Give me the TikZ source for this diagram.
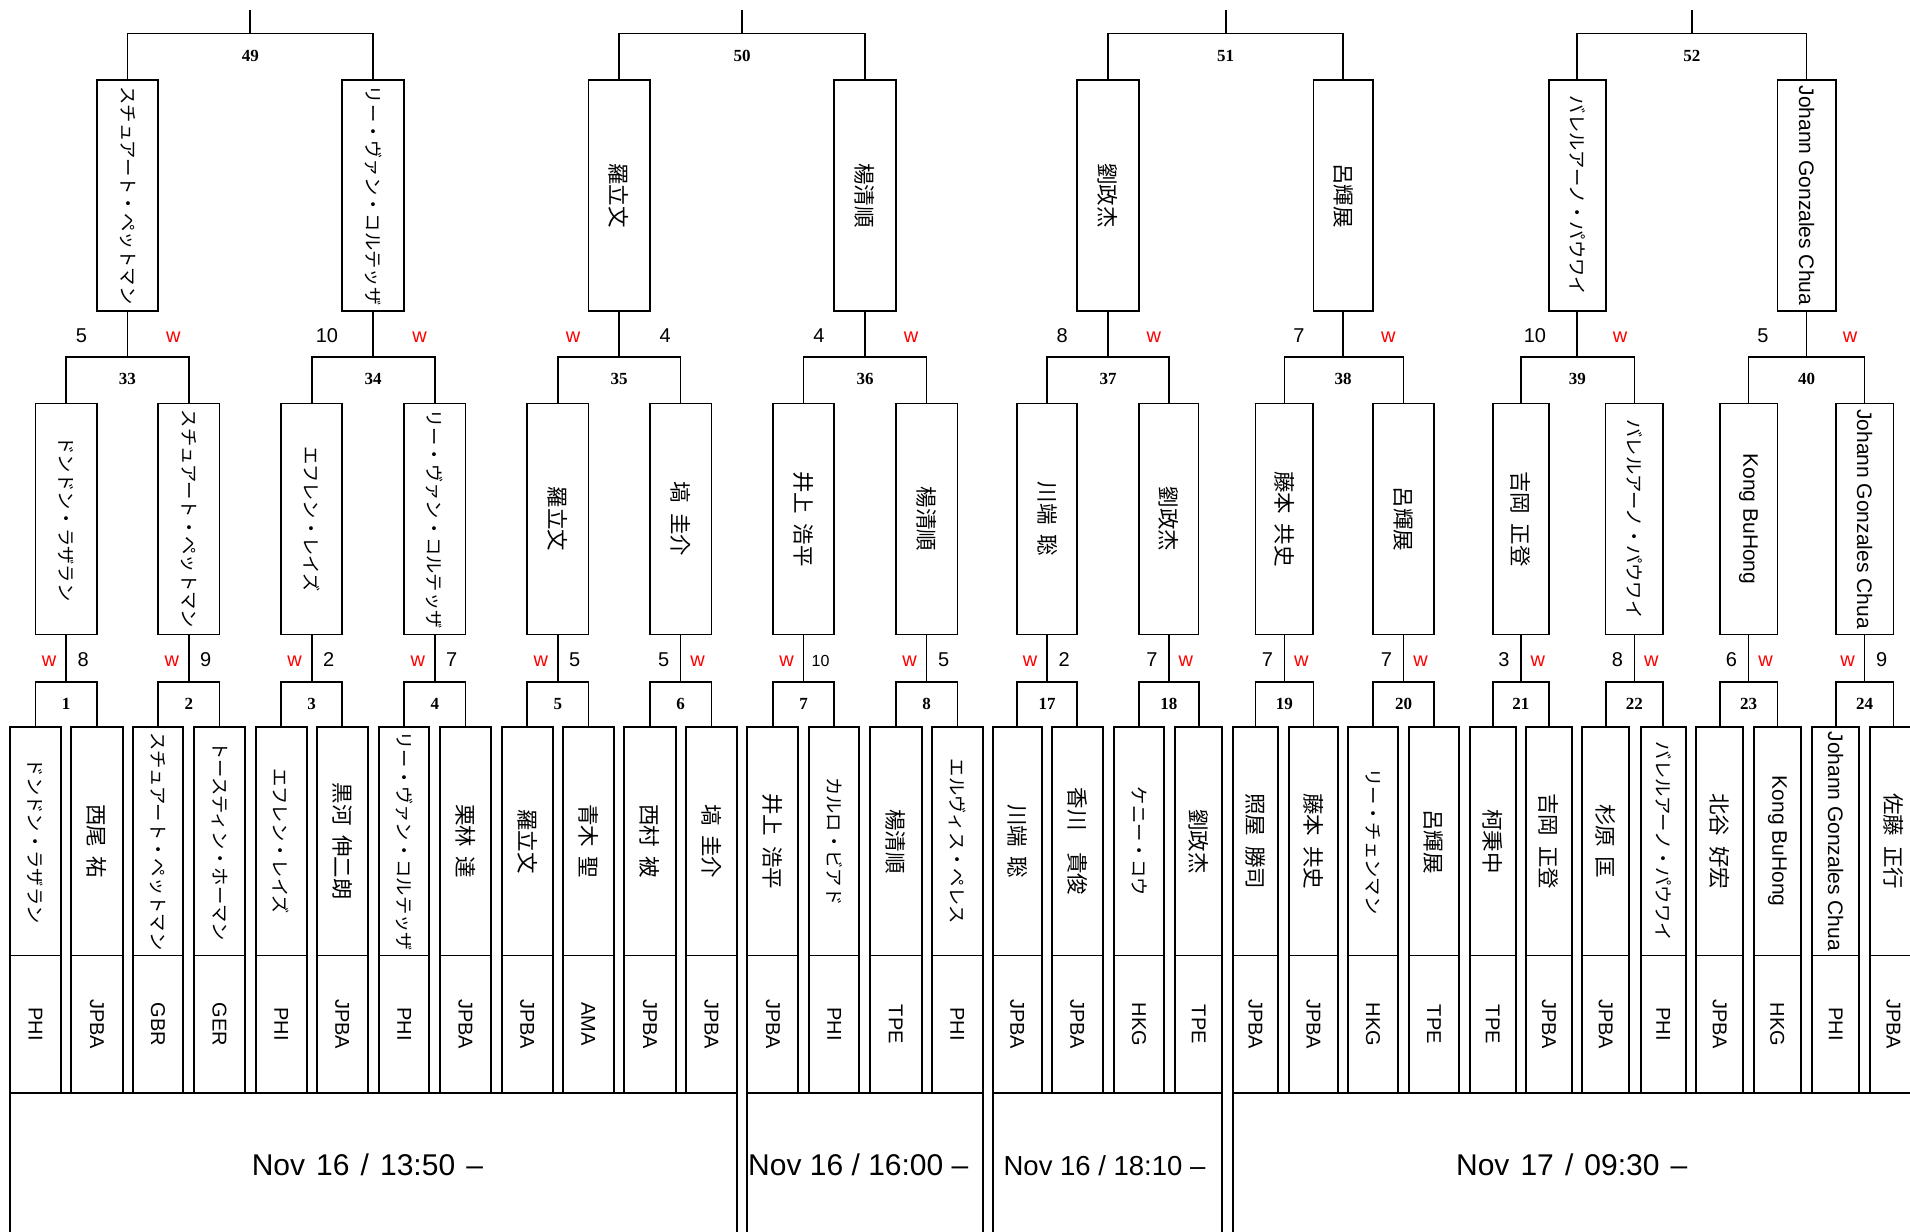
\documentclass[tikz,border=0pt]{standalone}
\usepackage{fontspec}
\usepackage{graphicx}
\newfontfamily\jpfont{Noto Sans CJK JP}
\newfontfamily\jpkfont{Noto Sans CJK JP}[WordSpace=2]
\newfontfamily\latfont{Liberation Sans}
\newfontfamily\serfont{Liberation Serif}
\definecolor{wred}{RGB}{255,0,0}
\newcommand\kanaf{\jpfont\fontsize{18.3}{20}\selectfont}
\newcommand\kanjif{\jpkfont\fontsize{21.5}{24}\selectfont}
\newcommand\latf{\latfont\fontsize{21}{24}\selectfont}
\newcommand\wm{\textcolor{wred}{w}}
\newcommand\tensm{{\fontsize{16}{18}\selectfont 10}}
\newcommand\datef{\latfont\fontsize{30}{32}\selectfont}
\newcommand\datesf{\latfont\fontsize{27.5}{30}\selectfont}
\tikzset{
  box/.style={draw, line width=1.7pt, inner sep=0pt, outer sep=0pt},
  link/.style={line width=1.7pt},
  ctry/.style={font=\latfont\fontsize{20}{22}\selectfont},
  score/.style={font=\latfont\fontsize{20}{22}\selectfont, anchor=base, inner sep=0pt},
  mnum/.style={font=\serfont\bfseries\fontsize{17}{19}\selectfont, anchor=base, inner sep=0pt},
  datetxt/.style={font=\datef, anchor=base, inner sep=0pt},
  datesmall/.style={font=\datesf, anchor=base, inner sep=0pt},
}
\begin{document}
\begin{tikzpicture}[x=1pt,y=-1pt]
\useasboundingbox (0,0) rectangle (1910,1231);

% players
\foreach \lo/\hi/\nm/\ct/\fs [count=\i from 0] in {
10/61/ドンドン・ラザラン/PHI/\kanaf,
71/122.7/西尾 祐/JPBA/\kanjif,
132.7/183.3/スチュアート・ペットマン/GBR/\kanaf,
194/245/トースティン・ホーマン/GER/\kanaf,
255.7/306.7/エフレン・レイズ/PHI/\kanaf,
316.7/367.7/黒河 伸二朗/JPBA/\kanjif,
379/429.3/リー・ヴァン・コルテッザ/PHI/\kanaf,
440/491/栗林 達/JPBA/\kanjif,
501.7/552.7/羅立文/JPBA/\kanjif,
562.7/614/青木 聖/AMA/\kanjif,
624/675.7/西村 被/JPBA/\kanjif,
686/736.7/塙 圭介/JPBA/\kanjif,
747.3/798.3/井上 浩平/JPBA/\kanjif,
809/859.3/カルロ・ビアド/PHI/\kanaf,
870/921.7/楊清順/TPE/\kanjif,
932/982.7/エルヴィス・ペレス/PHI/\kanaf,
992.7/1041.7/川端 聡/JPBA/\kanjif,
1051.7/1102.7/香川　貴俊/JPBA/\kanjif,
1114/1164/ケニー・コウ/HKG/\kanaf,
1175/1222.3/劉政杰/TPE/\kanjif,
1232.7/1278.3/照屋 勝司/JPBA/\kanjif,
1289/1337.7/藤本 共史/JPBA/\kanjif,
1347.7/1398.3/リー・チェンマン/HKG/\kanaf,
1409/1459/呂輝展/TPE/\kanjif,
1470/1515.7/柯秉中/TPE/\kanjif,
1526/1571.7/吉岡 正登/JPBA/\kanjif,
1582/1629.3/杉原 匡/JPBA/\kanjif,
1640.7/1685.7/バレルアーノ・パウワイ/PHI/\kanaf,
1696/1743.3/北谷 好宏/JPBA/\kanjif,
1754/1800.7/Kong BuHong/HKG/\latf,
1812/1859.3/Johann Gonzales Chua/PHI/\latf,
1870/1917/佐藤 正行/JPBA/\kanjif}{
  \pgfmathsetmacro\W{\hi-\lo}
  \pgfmathsetmacro\X{(\lo+\hi)/2}
  \node[box, anchor=north, minimum width=\W pt, minimum height=228.5pt, font=\fs] (pn\i) at (\X,727) {\rotatebox{-90}{\nm}};
  \node[box, anchor=north, minimum width=\W pt, minimum height=137.5pt, ctry] (pc\i) at (pn\i.south) {\rotatebox{-90}{\ct}};
}

% first round matches and their winners
\foreach \pa/\pb/\n/\mx/\bw/\nm/\fs/\lab/\rab in {
0/1/1/66.2/61.35/ドンドン・ラザラン/\kanaf/\wm/8,
2/3/2/188.75/61.5/スチュアート・ペットマン/\kanaf/\wm/9,
4/5/3/311.7/61/エフレン・レイズ/\kanaf/\wm/2,
6/7/4/434.8/61.35/リー・ヴァン・コルテッザ/\kanaf/\wm/7,
8/9/5/557.8/61.15/羅立文/\kanjif/\wm/5,
10/11/6/680.6/61.5/塙 圭介/\kanjif/5/\wm,
12/13/7/803.5/61.35/井上 浩平/\kanjif/\wm/\tensm,
14/15/8/926.6/61.5/楊清順/\kanjif/\wm/5,
16/17/17/1047.2/60/川端 聡/\kanjif/\wm/2,
18/19/18/1168.8/59.65/劉政杰/\kanjif/7/\wm,
20/21/19/1284.4/57.85/藤本 共史/\kanjif/7/\wm,
22/23/20/1403.5/61/呂輝展/\kanjif/7/\wm,
24/25/21/1520.85/56/吉岡 正登/\kanjif/3/\wm,
26/27/22/1634.4/57.55/バレルアーノ・パウワイ/\kanaf/8/\wm,
28/29/23/1748.5/57.7/Kong BuHong/\latf/6/\wm,
30/31/24/1864.6/57.85/Johann Gonzales Chua/\latf/\wm/9}{
  \coordinate (a\n) at (\mx,682);
  \draw[link] (pn\pa.north) |- (a\n) -| (pn\pb.north);
  \node[mnum] (an\n) at (\mx,709) {\n};
  \node[box, minimum width=\bw pt, minimum height=231pt, font=\fs] (w\n) at (\mx,519) {\rotatebox{-90}{\nm}};
  \draw[link] (a\n) -- (w\n.south);
  \node[score] (sla\n) at ({\mx-17},666) {\lab};
  \node[score] (sra\n) at ({\mx+17},666) {\rab};
}

% second round
\foreach \ba/\bb/\n/\sx/\tw/\nm/\fs/\lab/\rab/\lx/\rx in {
1/2/33/127.4/61.15/スチュアート・ペットマン/\kanaf/5/\wm/81.5/173.4,
3/4/34/373.2/61.95/リー・ヴァン・コルテッザ/\kanaf/10/\wm/326.95/419.5,
5/6/35/619.1/61.5/羅立文/\kanjif/\wm/4/573.1/665.2,
7/8/36/865/61.7/楊清順/\kanjif/4/\wm/818.8/911.2,
17/18/37/1108.1/61.8/劉政杰/\kanjif/8/\wm/1062.2/1153.9,
19/20/38/1343.2/59.65/呂輝展/\kanjif/7/\wm/1298.9/1388.25,
21/22/39/1577.25/56.8/バレルアーノ・パウワイ/\kanaf/10/\wm/1534.85/1620,
23/24/40/1806.5/58.3/Johann Gonzales Chua/\latf/5/\wm/1762.9/1850.1}{
  \coordinate (b\n) at (\sx,357);
  \draw[link] (w\ba.north) |- (b\n) -| (w\bb.north);
  \node[mnum] (bn\n) at (\sx,384.5) {\n};
  \node[box, minimum width=\tw pt, minimum height=230.7pt, font=\fs] (t\n) at (\sx,195.5) {\rotatebox{-90}{\nm}};
  \draw[link] (b\n) -- (t\n.south);
  \node[score] (slb\n) at (\lx,342.5) {\lab};
  \node[score] (srb\n) at (\rx,342.5) {\rab};
}

% third round
\foreach \pa/\pb/\n/\mx in {33/34/49/250.3, 35/36/50/742.05, 37/38/51/1225.65, 39/40/52/1691.9}{
  \coordinate (c\n) at (\mx,33.5);
  \coordinate (top\n) at (\mx,10);
  \draw[link] (t\pa.north) |- (c\n) -| (t\pb.north);
  \draw[link] (c\n) -- (top\n);
  \node[mnum] (cn\n) at (\mx,61.75) {\n};
}

% session boxes
\node[box, anchor=north west, minimum width=726.7pt, minimum height=200pt] (d1) at (10,1093) {};
\node[box, anchor=north west, minimum width=235.4pt, minimum height=200pt] (d2) at (747.3,1093) {};
\node[box, anchor=north west, minimum width=229.6pt, minimum height=200pt] (d3) at (992.7,1093) {};
\node[box, anchor=north west, minimum width=680pt, minimum height=200pt] (d4) at (1232.7,1093) {};
\node[datetxt] (dt1) at (367.4,1175) {\spaceskip=11.1pt\relax Nov 16 / 13:50 –};
\node[datetxt] (dt2) at (858.3,1175) {Nov 16 / 16:00 –};
\node[datesmall] (dt3) at (1104.5,1175) {Nov 16 / 18:10 –};
\node[datetxt] (dt4) at (1571.7,1175) {\spaceskip=11.1pt\relax Nov 17 / 09:30 –};
\end{tikzpicture}
\end{document}
